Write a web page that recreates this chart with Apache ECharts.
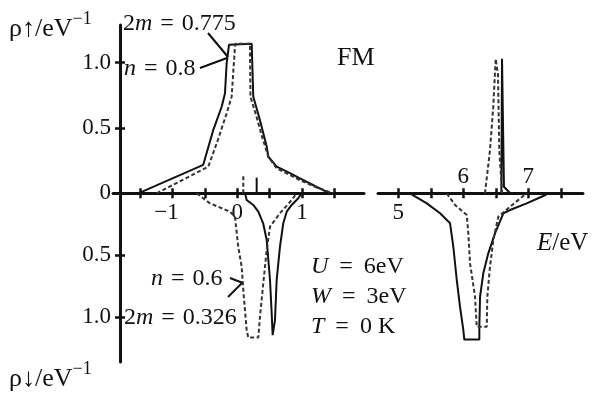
<!DOCTYPE html>
<html>
<head>
<meta charset="utf-8">
<script src="https://cdn.jsdelivr.net/npm/echarts@6/dist/echarts.min.js"></script>
<style>
  html, body { margin: 0; padding: 0; background: #fff; }
  #chart { width: 600px; height: 396px; }
</style>
</head>
<body>
<div id="chart"></div>
<script>
// Spin-resolved density of states, [E (eV), rho (1/eV)]
// Lower band (E around 0), spin up
const upSolidLow = [
  [-1.53, 0], [-0.526, 0.218], [-0.50, 0.23], [-0.37, 0.486], [-0.24, 0.665],
  [-0.19, 0.767], [-0.164, 0.997], [-0.128, 1.137], [-0.113, 1.145], [0.223, 1.145],
  [0.235, 0.945], [0.247, 0.741], [0.35, 0.562], [0.455, 0.358], [0.48, 0.28],
  [0.61, 0.205], [0.815, 0.155], [0.97, 0.115], [1.2, 0.056], [1.43, 0]
];
const upDashedLow = [
  [-1.246, 0], [-0.448, 0.204], [-0.30, 0.408], [-0.164, 0.613], [-0.087, 0.74],
  [-0.036, 1.12], [-0.028, 1.145], [0.196, 1.145], [0.204, 0.74], [0.29, 0.6],
  [0.38, 0.44], [0.48, 0.28], [0.61, 0.19], [0.815, 0.14], [0.97, 0.10],
  [1.2, 0.05], [1.48, 0]
];
// Lower band, spin down (magnitudes)
const downSolidLow = [
  [0.12, 0], [0.145, 0.054], [0.247, 0.094], [0.325, 0.148], [0.40, 0.242],
  [0.455, 0.377], [0.506, 0.699], [0.532, 0.968], [0.547, 1.143], [0.583, 1.022],
  [0.609, 0.699], [0.66, 0.431], [0.711, 0.242], [0.764, 0.148], [0.841, 0.094],
  [0.943, 0.04], [0.996, 0]
];
const downDashedLow = [
  [-0.628, 0], [-0.422, 0.081], [-0.113, 0.148], [-0.036, 0.189], [0.015, 0.431],
  [0.068, 0.592], [0.093, 0.78], [0.145, 1.103], [0.17, 1.163], [0.325, 1.163],
  [0.351, 0.995], [0.402, 0.726], [0.455, 0.457], [0.506, 0.269], [0.66, 0.161],
  [0.841, 0.054], [0.918, 0]
];
// Fermi level markers
const fermiSolid = [[0.30, 0], [0.30, 0.12]];
const fermiDashed = [[0.093, 0], [0.093, 0.14]];

// Upper band (E around 6), spin up
const upSolidHigh = [[6.585, 0], [6.595, 1.03], [6.615, 1.03], [6.625, 0.05], [6.72, 0]];
const upDashedHigh = [
  [6.333, 0], [6.41, 0.33], [6.46, 0.66], [6.498, 1.03], [6.513, 1.045],
  [6.533, 0.91], [6.553, 0.33], [6.59, 0.05], [6.595, 0]
];
// Upper band, spin down (magnitudes)
const downSolidHigh = [
  [5.18, 0], [5.438, 0.081], [5.642, 0.161], [5.796, 0.242], [5.846, 0.431],
  [5.899, 0.699], [5.949, 0.915], [6.0, 1.103], [6.015, 1.179], [6.246, 1.179],
  [6.246, 1.076], [6.257, 0.834], [6.307, 0.645], [6.384, 0.484], [6.487, 0.323],
  [6.615, 0.161], [6.718, 0.135], [6.974, 0.081], [7.229, 0.022], [7.306, 0]
];
const downDashedHigh = [
  [5.745, 0], [5.872, 0.094], [6.052, 0.175], [6.077, 0.323], [6.103, 0.565],
  [6.18, 0.834], [6.206, 1.076], [6.36, 1.076], [6.369, 0.834], [6.41, 0.592],
  [6.461, 0.377], [6.538, 0.189], [6.718, 0.108], [6.974, 0]
];

// Axis ticks and labels
const lowTicks = [-1.5, -1, -0.5, 0, 0.5, 1, 1.5];
const lowLabels = [-1, 0, 1];
const highTicks = [5, 5.5, 6, 6.5, 7, 7.5];
const highLabelsBelow = [5];
const highLabelsAbove = [6, 7];
const rhoTicks = [0.5, 1];
const rhoLabelsUp = [0, 0.5, 1];
const rhoLabelsDown = [0.5, 1];

const INK = '#111';
const DASH_INK = '#333';
const SERIF = '"Liberation Serif", "Times New Roman", serif';
const f = (size, italic) => (italic ? 'italic ' : '') + size + 'px ' + SERIF;

const lowRange = { min: -1.921, max: 1.959 };
const highRange = { min: 4.687, max: 7.841 };
const upMax = 1.289;
const downMax = 1.36;

const fmtE = v => (v < 0 ? '{neg|\u2212' + Math.abs(v) + '}' : String(v));
const fmtRho = v => (v === 0 ? '0' : v.toFixed(1));

const labelStyle = { color: INK, fontFamily: SERIF, fontSize: 23 };
const tickStyle = { color: INK, width: 2.5 };

function xMain(grid, range, ticks, labels) {
  return {
    gridIndex: grid, type: 'value', min: range.min, max: range.max, position: 'bottom',
    axisLine: { show: true, onZero: false, lineStyle: { color: INK, width: 3 } },
    axisTick: { show: true, inside: false, length: 5, customValues: ticks, lineStyle: tickStyle },
    axisLabel: Object.assign({ customValues: labels, margin: 8, formatter: fmtE,
      rich: { neg: { fontFamily: SERIF, fontSize: 23, color: INK, padding: [0, 12, 0, 0] } } }, labelStyle),
    splitLine: { show: false }
  };
}
function xInner(grid, range, ticks, labels) {
  return {
    gridIndex: grid, type: 'value', min: range.min, max: range.max, position: 'bottom',
    axisLine: { show: false, onZero: false },
    axisTick: { show: true, inside: true, length: 5, customValues: ticks, lineStyle: tickStyle },
    axisLabel: labels
      ? Object.assign({ show: true, inside: true, customValues: labels, margin: 5 }, labelStyle)
      : { show: false },
    splitLine: { show: false }
  };
}
function xHidden(grid, range) {
  return { gridIndex: grid, type: 'value', min: range.min, max: range.max, show: false };
}
function yMain(grid, max, inverse, labels) {
  return {
    gridIndex: grid, type: 'value', min: 0, max: max, inverse: inverse, position: 'left', offset: -7,
    axisLine: { show: true, onZero: false, lineStyle: { color: INK, width: 3 } },
    axisTick: { show: true, inside: false, length: 5, customValues: rhoTicks, lineStyle: tickStyle },
    axisLabel: Object.assign({ customValues: labels, margin: 9, formatter: fmtRho }, labelStyle),
    splitLine: { show: false }
  };
}
function yInner(grid, max, inverse) {
  return {
    gridIndex: grid, type: 'value', min: 0, max: max, inverse: inverse, position: 'left', offset: -7,
    axisLine: { show: false, onZero: false },
    axisTick: { show: true, inside: true, length: 5, customValues: rhoTicks, lineStyle: tickStyle },
    axisLabel: { show: false },
    splitLine: { show: false }
  };
}
function yHidden(grid, max, inverse) {
  return { gridIndex: grid, type: 'value', min: 0, max: max, inverse: inverse, show: false };
}

function curve(data, xi, yi, dashed) {
  return {
    type: 'line', data: data, xAxisIndex: xi, yAxisIndex: yi,
    symbol: 'none', showSymbol: false, silent: true, clip: false,
    lineStyle: dashed
      ? { color: DASH_INK, width: 2, type: [4, 2.5] }
      : { color: INK, width: 2 }
  };
}

function label(x, y, text, size, extra) {
  return {
    type: 'text', x: x, y: y, silent: true,
    style: Object.assign({
      text: text, font: f(size), fill: INK,
      textAlign: 'left', align: 'left',
      textVerticalAlign: 'middle', verticalAlign: 'middle'
    }, extra || {})
  };
}
// Math-style text: italic symbols, widened "=" spacing
const richMath = (size, gap) => ({
  i: { font: f(size, true), fill: INK },
  r: { font: f(size), fill: INK },
  e: { font: f(size), fill: INK, padding: [0, gap, 0, gap] }
});
// Axis unit label with a raised exponent
const richUnit = {
  r: { font: f(26), fill: INK, lineHeight: 38 },
  s: { font: f(18), fill: INK, verticalAlign: 'top', lineHeight: 18 }
};
function leader(points) {
  return { type: 'polyline', silent: true, shape: { points: points },
    style: { stroke: INK, lineWidth: 2, fill: null } };
}

const option = {
  animation: false,
  backgroundColor: '#fff',
  grid: [
    { left: 113, top: 25, width: 251, height: 168.3 },
    { left: 378, top: 25, width: 205, height: 168.3 },
    { left: 113, top: 193.3, width: 251, height: 168.7 },
    { left: 378, top: 193.3, width: 205, height: 168.7 }
  ],
  xAxis: [
    xMain(0, lowRange, lowTicks, lowLabels),
    xInner(0, lowRange, lowTicks, null),
    xMain(1, highRange, highTicks, highLabelsBelow),
    xInner(1, highRange, highTicks, highLabelsAbove),
    xHidden(2, lowRange),
    xHidden(3, highRange)
  ],
  yAxis: [
    yMain(0, upMax, false, rhoLabelsUp),
    yInner(0, upMax, false),
    yHidden(1, upMax, false),
    yMain(2, downMax, true, rhoLabelsDown),
    yInner(2, downMax, true),
    yHidden(3, downMax, true)
  ],
  series: [
    curve(upSolidLow, 0, 0, false),
    curve(upDashedLow, 0, 0, true),
    curve(fermiSolid, 0, 0, false),
    curve(fermiDashed, 0, 0, true),
    curve(upSolidHigh, 2, 2, false),
    curve(upDashedHigh, 2, 2, true),
    curve(downSolidLow, 4, 3, false),
    curve(downDashedLow, 4, 3, true),
    curve(downSolidHigh, 5, 5, false),
    curve(downDashedHigh, 5, 5, true)
  ],
  graphic: [
    label(9, 29, '{r|\u03c1\u2191/eV}{s|\u22121}', 26, { rich: richUnit }),
    label(9, 379, '{r|\u03c1\u2193/eV}{s|\u22121}', 26, { rich: richUnit }),
    label(123, 24, '{r|2}{i|m}{e| = }{r|0.775}', 24, { rich: richMath(24, 2) }),
    label(124, 69, '{i|n}{e| = }{r|0.8}', 24, { rich: richMath(24, 2) }),
    label(151, 279, '{i|n}{e| = }{r|0.6}', 24, { rich: richMath(24, 2) }),
    label(124, 318, '{r|2}{i|m}{e| = }{r|0.326}', 24, { rich: richMath(24, 2) }),
    label(337, 58, 'FM', 26),
    label(311, 267, '{i|U}{e| = }{r|6eV}', 24, { rich: richMath(24, 5) }),
    label(311, 297, '{i|W}{e| = }{r|3eV}', 24, { rich: richMath(24, 5) }),
    label(311, 327, '{i|T}{e| = }{r|0 K}', 24, { rich: richMath(24, 5) }),
    label(537, 243, '{i|E}{r|/eV}', 25, { rich: richMath(25, 0) }),
    leader([[208, 33], [228, 57]]),
    leader([[200, 68], [227, 58]]),
    leader([[230, 278], [243, 283]]),
    leader([[228, 297], [243, 282]])
  ]
};

const chart = echarts.init(document.getElementById('chart'), null, { renderer: 'canvas' });
chart.setOption(option);
</script>
</body>
</html>
